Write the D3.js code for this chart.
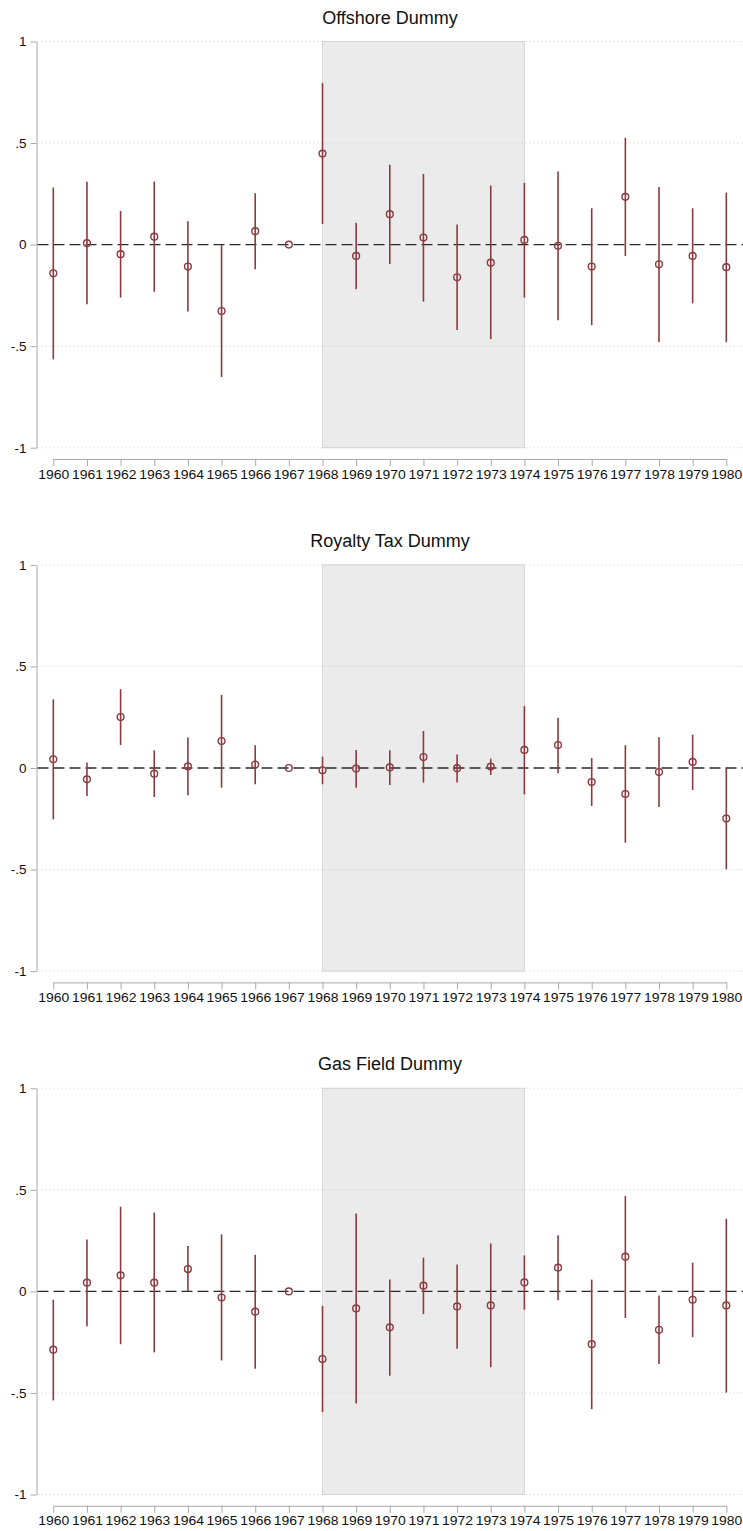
<!DOCTYPE html>
<html>
<head>
<meta charset="utf-8">
<script src="https://cdn.jsdelivr.net/npm/d3@7"></script>
<style>
  body { margin: 0; background: #fff; }
  svg { display: block; font-family: "Liberation Sans", Arial, sans-serif; }
</style>
</head>
<body>
<div id="app"></div>
<script>
// years on the x axis, 1967 is the reference year (no interval)
const years = d3.range(1960, 1981)
const yTicks = [-1, -0.5, 0, 0.5, 1]
const yTickLabels = ['-1', '-.5', '0', '.5', '1']
const shadeFrom = 1968
const shadeTo = 1974

const offshoreEst = [-0.141, 0.007, -0.047, 0.039, -0.108, -0.327, 0.066, 0, 0.448, -0.056, 0.150, 0.035, -0.161, -0.089, 0.023, -0.006, -0.108, 0.235, -0.097, -0.056, -0.111]
const offshoreHi  = [0.281, 0.310, 0.166, 0.310, 0.115, -0.003, 0.253, null, 0.795, 0.108, 0.393, 0.348, 0.099, 0.291, 0.304, 0.360, 0.179, 0.526, 0.284, 0.179, 0.256]
const offshoreLo  = [-0.565, -0.294, -0.261, -0.232, -0.330, -0.652, -0.121, null, 0.102, -0.220, -0.095, -0.281, -0.420, -0.466, -0.261, -0.373, -0.397, -0.056, -0.479, -0.289, -0.481]

const royaltyEst = [0.043, -0.056, 0.251, -0.028, 0.008, 0.133, 0.017, 0, -0.011, -0.003, 0.003, 0.054, -0.001, 0.007, 0.089, 0.113, -0.069, -0.128, -0.020, 0.030, -0.249]
const royaltyHi  = [0.338, 0.027, 0.388, 0.087, 0.150, 0.360, 0.112, null, 0.056, 0.089, 0.087, 0.182, 0.066, 0.046, 0.305, 0.248, 0.049, 0.112, 0.151, 0.164, -0.001]
const royaltyLo  = [-0.253, -0.138, 0.113, -0.143, -0.134, -0.097, -0.080, null, -0.080, -0.097, -0.084, -0.072, -0.072, -0.034, -0.130, -0.026, -0.187, -0.368, -0.192, -0.108, -0.499]

const gasEst = [-0.287, 0.043, 0.079, 0.043, 0.110, -0.030, -0.100, 0, -0.333, -0.084, -0.177, 0.028, -0.074, -0.069, 0.044, 0.117, -0.260, 0.171, -0.189, -0.041, -0.069]
const gasHi  = [-0.041, 0.256, 0.417, 0.388, 0.223, 0.281, 0.181, null, -0.072, 0.384, 0.059, 0.166, 0.133, 0.236, 0.177, 0.276, 0.058, 0.470, -0.020, 0.141, 0.358]
const gasLo  = [-0.537, -0.171, -0.260, -0.300, 0.002, -0.340, -0.381, null, -0.594, -0.552, -0.415, -0.112, -0.282, -0.373, -0.090, -0.044, -0.580, -0.131, -0.358, -0.225, -0.498]

const panels = [
  { title: 'Offshore Dummy', est: offshoreEst, lo: offshoreLo, hi: offshoreHi },
  { title: 'Royalty Tax Dummy', est: royaltyEst, lo: royaltyLo, hi: royaltyHi },
  { title: 'Gas Field Dummy', est: gasEst, lo: gasLo, hi: gasHi }
]

const w = 743
const h = 1531
const panelStep = 523.4
const axisX = 36.5
const red = '#8c3a3f'

const svg = d3.select('#app').append('svg')
  .attr('width', w)
  .attr('height', h)

const x = d3.scaleLinear().domain([1960, 1980]).range([53.3, 726.3])

panels.forEach(function (p, i) {
  const off = i * panelStep
  const y = d3.scaleLinear().domain([1, -1]).range([41.5 + off, 447.7 + off])
  const g = svg.append('g')

  // title
  g.append('text')
    .attr('x', 390)
    .attr('y', y(1) - 18)
    .attr('text-anchor', 'middle')
    .style('font-size', '18px')
    .style('fill', '#111')
    .text(p.title)

  // shaded period
  g.append('rect')
    .attr('x', x(shadeFrom))
    .attr('y', y(1))
    .attr('width', x(shadeTo) - x(shadeFrom))
    .attr('height', y(-1) - y(1))
    .attr('fill', '#ebebeb')
    .attr('stroke', '#d6d6d6')
    .attr('stroke-width', 1)

  // dotted gridlines
  g.selectAll('.grid')
    .data(yTicks.filter(d => d !== 0))
    .enter().append('line')
    .attr('x1', axisX + 1)
    .attr('x2', w)
    .attr('y1', d => y(d))
    .attr('y2', d => y(d))
    .attr('stroke', '#c8c8c8')
    .attr('stroke-width', 0.9)
    .attr('stroke-dasharray', '1,3')

  // y axis
  const yAxis = d3.axisLeft(y)
    .tickValues(yTicks)
    .tickFormat(d => yTickLabels[yTicks.indexOf(d)])
    .tickSize(6)
    .tickSizeOuter(0)
  const ya = g.append('g')
    .attr('transform', 'translate(' + axisX + ',0)')
    .call(yAxis)
  ya.select('.domain').attr('stroke', '#a8a8a8')
  ya.selectAll('.tick line').attr('stroke', '#a8a8a8')
  ya.selectAll('.tick text')
    .attr('x', -10)
    .style('font-size', '13.5px')
    .style('font-family', '"Liberation Sans", Arial, sans-serif')
    .attr('fill', '#111')

  // x axis
  const xAxis = d3.axisBottom(x)
    .tickValues(years)
    .tickFormat(d3.format('d'))
    .tickSize(7)
    .tickSizeOuter(0)
  const xa = g.append('g')
    .attr('transform', 'translate(0,' + (y(-1) + 11.3) + ')')
    .call(xAxis)
  xa.select('.domain').attr('stroke', '#a8a8a8')
  xa.selectAll('.tick line').attr('stroke', '#a8a8a8')
  xa.selectAll('.tick text')
    .attr('y', 10)
    .style('font-size', '13.5px')
    .style('font-family', '"Liberation Sans", Arial, sans-serif')
    .attr('fill', '#111')
    .attr('textLength', 31)
    .attr('lengthAdjust', 'spacingAndGlyphs')

  // zero reference line
  g.append('line')
    .attr('x1', axisX + 1)
    .attr('x2', w)
    .attr('y1', y(0))
    .attr('y2', y(0))
    .attr('stroke', '#2a2a2a')
    .attr('stroke-width', 1.4)
    .attr('stroke-dasharray', '11,5')

  const rows = years.map((yr, k) => ({ yr: yr, est: p.est[k], lo: p.lo[k], hi: p.hi[k] }))

  // confidence intervals
  g.selectAll('.ci')
    .data(rows.filter(d => d.lo !== null))
    .enter().append('line')
    .attr('x1', d => x(d.yr))
    .attr('x2', d => x(d.yr))
    .attr('y1', d => y(d.hi))
    .attr('y2', d => y(d.lo))
    .attr('stroke', red)
    .attr('stroke-width', 1.6)

  // point estimates
  g.selectAll('.pt')
    .data(rows)
    .enter().append('circle')
    .attr('cx', d => x(d.yr))
    .attr('cy', d => y(d.est))
    .attr('r', 3.4)
    .attr('fill', 'none')
    .attr('stroke', red)
    .attr('stroke-width', 1.4)
})
</script>
</body>
</html>
